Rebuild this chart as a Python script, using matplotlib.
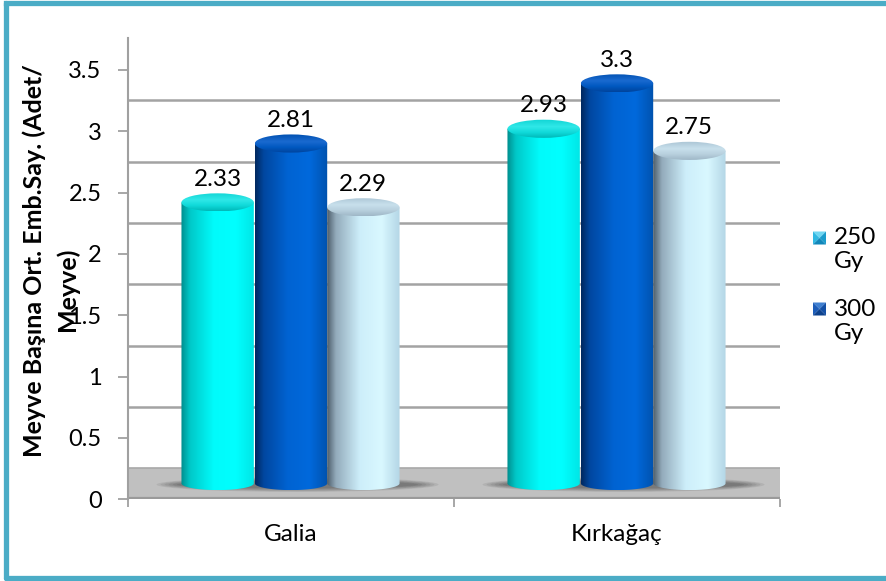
from __future__ import annotations

import numpy as np
import matplotlib.pyplot as plt
from matplotlib.colors import LinearSegmentedColormap
from matplotlib.lines import Line2D
from matplotlib.patches import Ellipse, PathPatch, Polygon, Rectangle
from matplotlib.path import Path

plt.rcParams["font.family"] = ["Lato", "DejaVu Sans"]

# --- data -------------------------------------------------------------------
categories = ["Galia", "Kırkağaç"]
series_names = ["250 Gy", "300 Gy", "Kontrol"]
values_250 = [2.33, 2.93]
values_300 = [2.81, 3.30]
values_ctrl = [2.29, 2.75]
y_ticks = [0, 0.5, 1, 1.5, 2, 2.5, 3, 3.5]
y_label = "Meyve Başına Ort. Emb.Say. (Adet/\nMeyve)"

# side gradients (left -> right) and top colours for the cylinders
body_stops = [
    ["#008e8e", "#00c8c8", "#00fbfb", "#00ffff", "#00e6e6"],
    ["#00285f", "#0047a0", "#0063d2", "#0069dc", "#0052ae"],
    ["#4f5f6c", "#93abbb", "#cdeefa", "#d9f8ff", "#b4d6e6"],
]
top_stops = [
    ["#00b8b8", "#10dada", "#30e8e8", "#10d4d4"],
    ["#00449c", "#0058c0", "#1a6ad0", "#0050b0"],
    ["#9fb7c7", "#b8d0de", "#c8e0ec", "#aac4d4"],
]
legend_faces = [
    ["#6fd6f2", "#2fb8e2", "#1a9ccc", "#1187ba"],
    ["#3f7fd0", "#1c5cb8", "#1450a6", "#0e428e"],
]

FLOOR = 0.253      # depth of the floor expressed in y units
TOP_OFF = 0.09     # bars stand at mid depth of the floor
BASE_OFF = 0.13
BAR_W = 0.222
TOP_H = 0.074      # half height of the top ellipse
BASE_H = 0.055
FS = 17.5
FS_TICK = 17


def cylinder(ax, cx: float, value: float, k: int) -> float:
    x0, x1 = cx - BAR_W / 2, cx + BAR_W / 2
    top = value + TOP_OFF
    base = BASE_OFF

    t = np.linspace(np.pi, 2 * np.pi, 60)
    verts = [(x0, top), (x0, base)]
    verts += list(zip(cx + BAR_W / 2 * np.cos(t), base + BASE_H * np.sin(t)))
    verts += [(x1, base), (x1, top), (x0, top)]
    clip = PathPatch(Path(verts), facecolor="none", edgecolor="none")
    ax.add_patch(clip)

    cmap = LinearSegmentedColormap.from_list(
        f"b{k}", list(zip([0, 0.12, 0.45, 0.75, 1], body_stops[k])))
    grad = np.linspace(0, 1, 200)[None, :]
    im = ax.imshow(grad, cmap=cmap, extent=[x0, x1, base - BASE_H, top],
                   aspect="auto", zorder=3, interpolation="bilinear")
    im.set_clip_path(clip)

    lid = Ellipse((cx, top), BAR_W, 2 * TOP_H, facecolor="none", edgecolor="none")
    ax.add_patch(lid)
    cmap_t = LinearSegmentedColormap.from_list(
        f"t{k}", list(zip([0, 0.3, 0.6, 1], top_stops[k])))
    grad_t = np.linspace(0, 1, 100)[:, None]
    im_t = ax.imshow(grad_t, cmap=cmap_t, origin="lower",
                     extent=[x0, x1, top - TOP_H, top + TOP_H],
                     aspect="auto", zorder=4, interpolation="bilinear")
    im_t.set_clip_path(lid)
    return top + TOP_H


def main() -> None:
    fig = plt.figure(figsize=(8.86, 5.81), dpi=100)
    W, H = 886, 581
    ax = fig.add_axes([128 / W, (H - 499.3) / H, (780 - 128) / W, (499.3 - 38) / H])
    ax.set_xlim(0, 2)
    ax.set_ylim(0, 3.76)

    # back wall gridlines and floor
    for v in np.arange(0.5, 3.01, 0.5):
        ax.axhline(v + FLOOR, color="#a3a3a3", lw=1.8, zorder=1)
    ax.add_patch(Rectangle((0, 0), 2, FLOOR, facecolor="#c0c0c0",
                           edgecolor="none", zorder=1))
    ax.axhline(FLOOR, color="#a8a8a8", lw=1.2, zorder=1)
    ax.axhline(0.01, color="#9a9a9a", lw=1.6, zorder=1)

    offsets = [-0.225, 0.0, 0.222]
    series = [values_250, values_300, values_ctrl]
    for i in range(len(categories)):
        gc = i + 0.5
        # soft shadow on the floor
        for s in range(6):
            ax.add_patch(Ellipse((gc + 0.02, BASE_OFF - 0.01), 0.74 + s * 0.025,
                                 0.06 + s * 0.012, facecolor="black",
                                 alpha=0.07, edgecolor="none", zorder=2))
        for k, vals in enumerate(series):
            cx = gc + offsets[k]
            y_top = cylinder(ax, cx, vals[i], k)
            ax.text(cx, y_top + 0.03, f"{vals[i]:g}", ha="center", va="bottom",
                    fontsize=FS, color="black", zorder=5)

    # axes styling
    for side in ["top", "right", "bottom"]:
        ax.spines[side].set_visible(False)
    ax.spines["left"].set_color("#a0a0a0")
    ax.spines["left"].set_linewidth(1.5)
    ax.set_yticks(y_ticks)
    ax.set_yticklabels([f"{v:g}" for v in y_ticks])
    ax.tick_params(axis="y", length=7, width=1.3, color="#a0a0a0", pad=12,
                   labelsize=FS_TICK)
    ax.set_xticks([0, 1, 2])
    ax.set_xticklabels([])
    ax.tick_params(axis="x", which="major", length=6, width=1.3, color="#a0a0a0")
    ax.set_xticks([0.5, 1.5], minor=True)
    ax.set_xticklabels(categories, minor=True)
    ax.tick_params(axis="x", which="minor", length=0, pad=18, labelsize=FS)

    # the axis title wraps in two lines that are not centred on each other
    line1, line2 = y_label.split("\n")
    fig.text(34 / W, 1 - 261 / H, line1, rotation=90, ha="center",
             va="center", fontsize=18, fontweight="bold")
    fig.text(67 / W, 1 - 289 / H, line2, rotation=90, ha="center",
             va="center", fontsize=18, fontweight="bold")

    # legend (only the first two entries are visible in the original)
    for k, lab in enumerate(series_names[:2]):
        yc = 238 + k * 71
        x0, x1 = 813 / W, 826 / W
        y0, y1 = 1 - (yc + 6.5) / H, 1 - (yc - 6.5) / H
        xm, ym = (x0 + x1) / 2, (y0 + y1) / 2
        tris = [
            [(x0, y1), (x1, y1), (xm, ym)],
            [(x0, y0), (x0, y1), (xm, ym)],
            [(x1, y0), (x1, y1), (xm, ym)],
            [(x0, y0), (x1, y0), (xm, ym)],
        ]
        for tri, c in zip(tris, legend_faces[k]):
            fig.patches.append(Polygon(tri, closed=True, facecolor=c,
                                       edgecolor="none",
                                       transform=fig.transFigure))
        num, unit = lab.split(" ")
        fig.text(834 / W, 1 - yc / H, num, ha="left", va="center", fontsize=FS)
        fig.text(834 / W, 1 - (yc + 24) / H, unit, ha="left", va="center",
                 fontsize=FS)

    # outer frame
    col = "#4bacc6"
    fig.add_artist(Line2D([5.5 / W, 1], [1 - 2.5 / H, 1 - 2.5 / H],
                          transform=fig.transFigure, color=col, lw=3.8))
    fig.add_artist(Line2D([5.5 / W, 5.5 / W], [1 - 2.5 / H, 3 / H],
                          transform=fig.transFigure, color=col, lw=3.8,
                          solid_capstyle="round"))
    fig.add_artist(Line2D([5.5 / W, 1], [3 / H, 3 / H],
                          transform=fig.transFigure, color=col, lw=3.8,
                          solid_capstyle="round"))

    fig.savefig("out.png", dpi=100)


if __name__ == "__main__":
    main()
